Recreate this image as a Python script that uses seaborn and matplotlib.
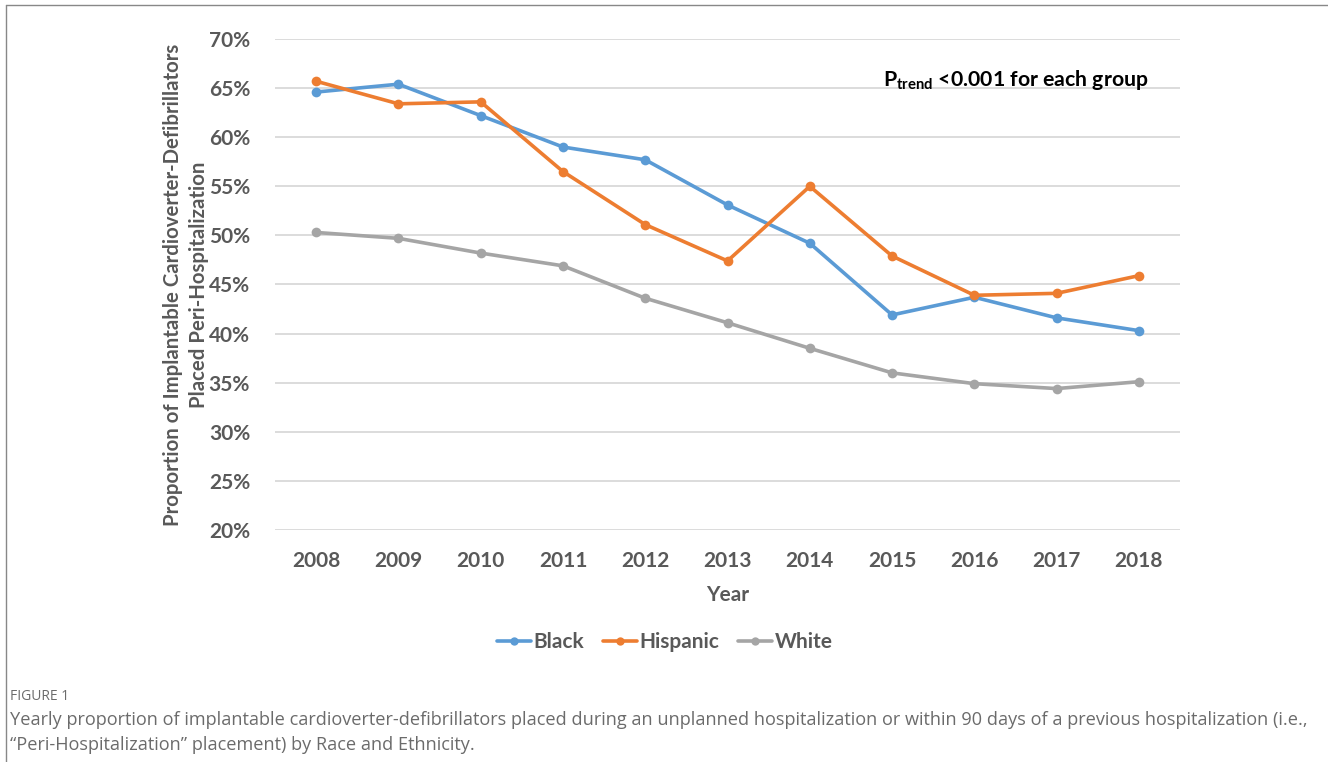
import matplotlib
matplotlib.use('Agg')
import matplotlib.pyplot as plt
import matplotlib.ticker as mtick
from matplotlib.lines import Line2D
import pandas as pd
import seaborn as sns

# data (proportion, %)
years = [2008, 2009, 2010, 2011, 2012, 2013, 2014, 2015, 2016, 2017, 2018]
black = [64.6, 65.4, 62.2, 59.0, 57.7, 53.1, 49.2, 41.9, 43.7, 41.6, 40.3]
hispanic = [65.7, 63.4, 63.6, 56.5, 51.1, 47.4, 55.0, 47.9, 43.9, 44.1, 45.9]
white = [50.3, 49.7, 48.2, 46.9, 43.6, 41.1, 38.5, 36.0, 34.9, 34.4, 35.1]
groups = ['Black', 'Hispanic', 'White']
colors = ['#5B9BD5', '#ED7D31', '#A5A5A5']

df = pd.DataFrame({'Year': years * 3,
                   'value': [v / 100 for v in black + hispanic + white],
                   'group': [g for g in groups for _ in years]})

sns.set_style('white')
plt.rcParams['font.family'] = ['Lato', 'DejaVu Sans']
plt.rcParams['mathtext.fontset'] = 'custom'
plt.rcParams['mathtext.rm'] = 'Lato:bold'
plt.rcParams['mathtext.it'] = 'Lato:bold'
plt.rcParams['mathtext.bf'] = 'Lato:bold'
txt = '#595959'

fig = plt.figure(figsize=(13.28, 7.62), dpi=100)
ax = fig.add_axes([0.2071, 0.3045, 0.6815, 0.6443])

sns.lineplot(data=df, x='Year', y='value', hue='group', palette=colors,
             marker='o', markersize=7, markeredgewidth=0, linewidth=2.6,
             legend=False, ax=ax)

ax.set_xlim(2007.5, 2018.5)
ax.set_ylim(0.2, 0.7)
ax.set_xticks(years)
ax.set_yticks([0.2, 0.25, 0.3, 0.35, 0.4, 0.45, 0.5, 0.55, 0.6, 0.65, 0.7])
ax.yaxis.set_major_formatter(mtick.PercentFormatter(1.0, decimals=0))
ax.grid(axis='y', color='#D9D9D9', linewidth=1.3)
ax.set_axisbelow(True)
for s in ax.spines.values():
    s.set_visible(False)
ax.tick_params(length=0, labelsize=15, labelcolor=txt)
for lab in ax.get_xticklabels() + ax.get_yticklabels():
    lab.set_fontweight('bold')
ax.tick_params(axis='x', pad=15)
ax.tick_params(axis='y', pad=18)

ax.set_xlabel('Year', fontsize=15, fontweight='bold', color=txt, labelpad=10)
ax.set_ylabel('Proportion of Implantable Cardioverter-Defibrillators\nPlaced Peri-Hospitalization',
              fontsize=14.7, fontweight='bold', color=txt, labelpad=0, linespacing=1.35)

ax.text(0.672, 0.905, r'$P_{trend}$ <0.001 for each group', transform=ax.transAxes,
        fontsize=15.3, fontweight='bold', color='black')

handles = [Line2D([], [], color=c, marker='o', markersize=6, markeredgewidth=0, linewidth=2.6)
           for c in colors]
leg = fig.legend(handles, groups, loc='center', bbox_to_anchor=(0.5008, 0.1575), ncol=3,
                 frameon=False, handlelength=1.6, handletextpad=0.15, columnspacing=0.9,
                 prop={'size': 15, 'weight': 'bold'})
for t in leg.get_texts():
    t.set_color(txt)

# panel frame (left and top edges)
fig.add_artist(Line2D([6 / 1328, 6 / 1328], [0, 1 - 5 / 762], color='#888888', linewidth=1))
fig.add_artist(Line2D([6 / 1328, 1], [1 - 5 / 762, 1 - 5 / 762], color='#888888', linewidth=1))

cap = '#6b6b6b'
fig.text(10 / 1328, 1 - 696 / 762, 'FIGURE 1', fontsize=10, color=cap, va='center',
         family=['Open Sans', 'DejaVu Sans'])
fig.text(10 / 1328, 1 - 720 / 762,
         'Yearly proportion of implantable cardioverter-defibrillators placed during an unplanned '
         'hospitalization or within 90 days of a previous hospitalization (i.e.,',
         fontsize=13.1, color=cap, va='center', family=['Open Sans', 'DejaVu Sans'])
fig.text(10 / 1328, 1 - 745 / 762,
         '\u201cPeri-Hospitalization\u201d placement) by Race and Ethnicity.',
         fontsize=13.1, color=cap, va='center', family=['Open Sans', 'DejaVu Sans'])

fig.savefig('out.png', dpi=100)
